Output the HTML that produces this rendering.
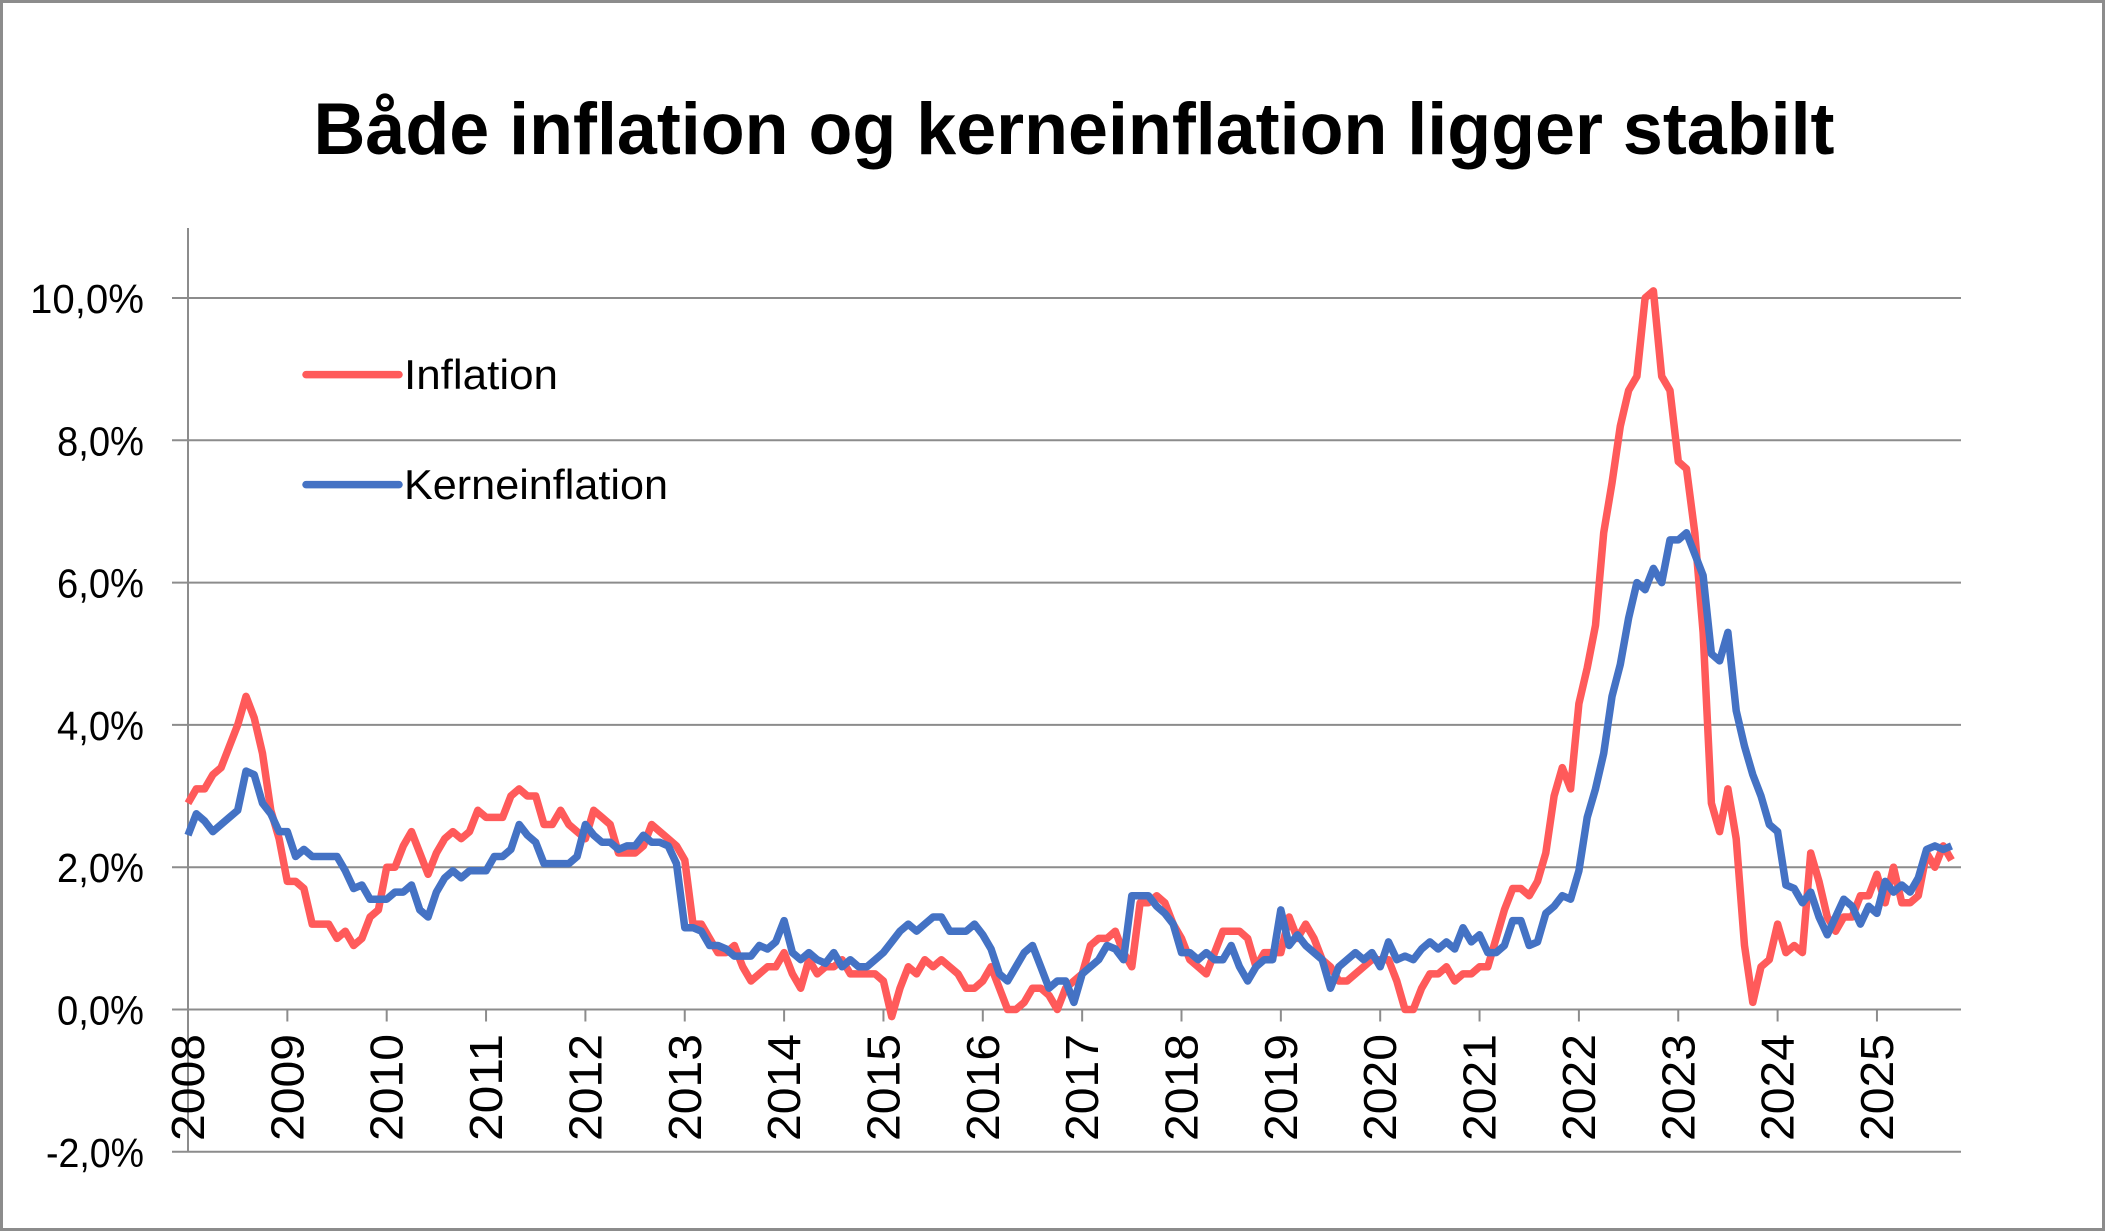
<!DOCTYPE html>
<html><head><meta charset="utf-8"><style>
html,body{margin:0;padding:0;background:#fff;}
svg{display:block;}
text{font-family:"Liberation Sans",sans-serif;}
</style></head><body>
<svg id="s" width="2105" height="1231" viewBox="0 0 2105 1231" xmlns="http://www.w3.org/2000/svg">
<rect x="1.5" y="1.5" width="2102" height="1228" fill="#fff" stroke="#8c8c8c" stroke-width="3"/>
<text x="1074" y="154" font-size="73" font-weight="bold" text-anchor="middle" textLength="1521" lengthAdjust="spacingAndGlyphs">Både inflation og kerneinflation ligger stabilt</text>
<g id="grid" stroke="#8c8c8c" stroke-width="2"></g>
<g id="ylab" font-size="41" text-anchor="end"></g>
<g id="xlab" font-size="46"></g>
<polyline id="red" fill="none" stroke="#ff5a5a" stroke-width="7.5" stroke-linejoin="round"/>
<polyline id="blue" fill="none" stroke="#4472c4" stroke-width="7.5" stroke-linejoin="round"/>
<line x1="306" y1="374.6" x2="399" y2="374.6" stroke="#ff5a5a" stroke-width="7.5" stroke-linecap="round"/>
<text x="404" y="389" font-size="42" textLength="154" lengthAdjust="spacingAndGlyphs">Inflation</text>
<line x1="306" y1="484.6" x2="399" y2="484.6" stroke="#4472c4" stroke-width="7.5" stroke-linecap="round"/>
<text x="404" y="499" font-size="42" textLength="264" lengthAdjust="spacingAndGlyphs">Kerneinflation</text>
</svg>
<script>
var NS="http://www.w3.org/2000/svg";
var X0=188,X1=1961,Y0=1009.5,STEP=71.15;
function Y(v){return Y0-v*STEP;}
var g=document.getElementById('grid'),yl=document.getElementById('ylab'),xl=document.getElementById('xlab');
function el(t,a,p){var e=document.createElementNS(NS,t);for(var k in a)e.setAttribute(k,a[k]);p.appendChild(e);return e;}
for(var v=-2;v<=10;v+=2){el('line',{x1:172,x2:X1,y1:Y(v),y2:Y(v)},g);
 var t=el('text',{x:144,y:Y(v)+15,textLength:(Math.abs(v)>=10?114:(v<0?98:87)),lengthAdjust:'spacingAndGlyphs'},yl);t.textContent=(v<0?'-':'')+Math.abs(v)+',0%';}
el('line',{x1:X0,x2:X0,y1:228,y2:1152},g);
var yw=99.35;
for(var i=0;i<18;i++){var x=X0+i*yw;
 if(i>0)el('line',{x1:x,x2:x,y1:Y0,y2:Y0+12},g);
 var t=el('text',{transform:'translate('+(x+16)+',1034) rotate(-90)','text-anchor':'end',textLength:107,lengthAdjust:'spacingAndGlyphs'},xl);t.textContent=2008+i;}
var r=[2.9,3.1,3.1,3.3,3.4,3.7,4.0,4.4,4.1,3.6,2.8,2.4,
1.8,1.8,1.7,1.2,1.2,1.2,1.0,1.1,0.9,1.0,1.3,1.4,
2.0,2.0,2.3,2.5,2.2,1.9,2.2,2.4,2.5,2.4,2.5,2.8,
2.7,2.7,2.7,3.0,3.1,3.0,3.0,2.6,2.6,2.8,2.6,2.5,
2.4,2.8,2.7,2.6,2.2,2.2,2.2,2.3,2.6,2.5,2.4,2.3,
2.1,1.2,1.2,1.0,0.8,0.8,0.9,0.6,0.4,0.5,0.6,0.6,
0.8,0.5,0.3,0.7,0.5,0.6,0.6,0.7,0.5,0.5,0.5,0.5,
0.4,-0.1,0.3,0.6,0.5,0.7,0.6,0.7,0.6,0.5,0.3,0.3,
0.4,0.6,0.3,0.0,0.0,0.1,0.3,0.3,0.2,0.0,0.3,0.4,
0.5,0.9,1.0,1.0,1.1,0.8,0.6,1.5,1.5,1.6,1.5,1.2,
1.0,0.7,0.6,0.5,0.8,1.1,1.1,1.1,1.0,0.6,0.8,0.8,
0.8,1.3,1.0,1.2,1.0,0.7,0.6,0.4,0.4,0.5,0.6,0.7,
0.7,0.7,0.4,0.0,0.0,0.3,0.5,0.5,0.6,0.4,0.5,0.5,
0.6,0.6,1.0,1.4,1.7,1.7,1.6,1.8,2.2,3.0,3.4,3.1,
4.3,4.8,5.4,6.7,7.4,8.2,8.7,8.9,10.0,10.1,8.9,8.7,
7.7,7.6,6.7,5.3,2.9,2.5,3.1,2.4,0.9,0.1,0.6,0.7,
1.2,0.8,0.9,0.8,2.2,1.8,1.3,1.1,1.3,1.3,1.6,1.6,
1.9,1.5,2.0,1.5,1.5,1.6,2.2,2.0,2.3,2.1];
var b=[2.45,2.75,2.65,2.5,2.6,2.7,2.8,3.35,3.3,2.9,2.75,2.5,
2.5,2.15,2.25,2.15,2.15,2.15,2.15,1.95,1.7,1.75,1.55,1.55,
1.55,1.65,1.65,1.75,1.4,1.3,1.65,1.85,1.95,1.85,1.95,1.95,
1.95,2.15,2.15,2.25,2.6,2.45,2.35,2.05,2.05,2.05,2.05,2.15,
2.6,2.45,2.35,2.35,2.25,2.3,2.3,2.45,2.35,2.35,2.3,2.05,
1.15,1.15,1.1,0.9,0.9,0.85,0.75,0.75,0.75,0.9,0.85,0.95,
1.25,0.8,0.7,0.8,0.7,0.65,0.8,0.6,0.7,0.6,0.6,0.7,
0.8,0.95,1.1,1.2,1.1,1.2,1.3,1.3,1.1,1.1,1.1,1.2,
1.05,0.85,0.5,0.4,0.6,0.8,0.9,0.6,0.3,0.4,0.4,0.1,
0.5,0.6,0.7,0.9,0.85,0.7,1.6,1.6,1.6,1.45,1.35,1.2,
0.8,0.8,0.7,0.8,0.7,0.7,0.9,0.6,0.4,0.6,0.7,0.7,
1.4,0.9,1.05,0.9,0.8,0.7,0.3,0.6,0.7,0.8,0.7,0.8,
0.6,0.95,0.7,0.75,0.7,0.85,0.95,0.85,0.95,0.85,1.15,0.95,
1.05,0.8,0.8,0.9,1.25,1.25,0.9,0.95,1.35,1.45,1.6,1.55,
1.95,2.7,3.1,3.6,4.4,4.85,5.5,6.0,5.9,6.2,6.0,6.6,
6.6,6.7,6.4,6.1,5.0,4.9,5.3,4.2,3.7,3.3,3.0,2.6,
2.5,1.75,1.7,1.5,1.65,1.3,1.05,1.3,1.55,1.45,1.2,1.45,
1.35,1.8,1.65,1.75,1.65,1.85,2.25,2.3,2.25,2.3];
function pts(a){return a.map(function(v,i){return (X0+i*yw/12).toFixed(1)+','+Y(v).toFixed(1);}).join(' ');}
document.getElementById('red').setAttribute('points',pts(r));
document.getElementById('blue').setAttribute('points',pts(b));
</script>
</body></html>
